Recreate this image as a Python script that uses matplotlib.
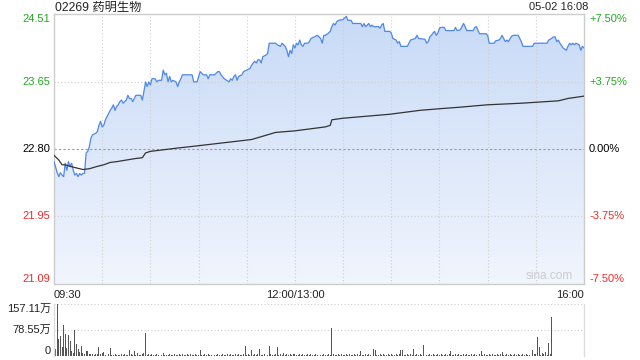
import matplotlib
matplotlib.use("Agg")
import matplotlib.pyplot as plt
import matplotlib.transforms as mtransforms
from matplotlib.colors import LinearSegmentedColormap
import numpy as np

plt.rcParams['font.family'] = ['Liberation Sans', 'Noto Sans CJK SC', 'DejaVu Sans']

title = "02269 药明生物"
stamp = "05-02 16:08"
prev_close = 22.80
price_ticks = [24.51, 23.65, 22.80, 21.95, 21.09]
pct_ticks = ["+7.50%", "+3.75%", "0.00%", "-3.75%", "-7.50%"]
time_labels = ["09:30", "12:00/13:00", "16:00"]
time_label_pos = [0, 150, 330]
vol_ticks = [157.11, 78.55, 0]
vol_tick_labels = ["157.11万", "78.55万", "0"]

price_min = [0, 2, 3, 4, 5, 6, 7, 8, 9, 10, 11, 12, 13, 14, 15, 16, 17, 18, 19, 20, 21, 22, 23, 24, 26, 27, 28, 29, 30,
             31, 32, 33, 34, 35, 36, 37, 38, 39, 40, 41, 42, 43, 44, 45, 46, 47, 48, 49, 50, 51, 54, 55, 56, 57, 58,
             59, 60, 61, 63, 64, 65, 67, 68, 69, 70, 71, 72, 73, 74, 76, 77, 78, 79, 80, 86, 87, 89, 91, 92, 93, 95,
             96, 97, 100, 102, 103, 104, 106, 109, 110, 111, 112, 113, 114, 115, 117, 118, 120, 122, 123, 124, 125,
             126, 127, 128, 129, 130, 132, 133, 134, 138, 139, 141, 142, 143, 144, 145, 146, 147, 148, 149, 150, 151,
             152, 153, 154, 155, 156, 158, 159, 160, 162, 164, 165, 166, 167, 168, 169, 171, 172, 173, 174, 175, 176,
             177, 180, 182, 183, 185, 186, 191, 192, 193, 194, 195, 196, 197, 198, 199, 202, 203, 204, 205, 206, 209,
             210, 211, 213, 214, 215, 216, 220, 221, 222, 225, 226, 227, 231, 232, 233, 234, 235, 236, 237, 238, 239,
             240, 241, 243, 244, 249, 250, 251, 253, 254, 255, 256, 257, 261, 262, 263, 264, 265, 269, 270, 271, 274,
             275, 277, 278, 279, 280, 281, 282, 283, 284, 285, 286, 289, 290, 291, 292, 298, 299, 307, 308, 309, 311,
             312, 313, 314, 315, 317, 319, 320, 321, 322, 323, 324, 325, 327, 328, 329, 330]
price_val = [22.64, 22.50, 22.45, 22.50, 22.47, 22.45, 22.62, 22.53, 22.64, 22.58, 22.62, 22.53, 22.47, 22.49, 22.45,
             22.49, 22.47, 22.49, 22.49, 22.75, 22.77, 22.83, 22.94, 22.98, 23.00, 23.02, 23.10, 23.15, 23.08, 23.10,
             23.17, 23.21, 23.25, 23.29, 23.32, 23.36, 23.29, 23.34, 23.36, 23.40, 23.42, 23.38, 23.40, 23.42, 23.48,
             23.44, 23.44, 23.40, 23.44, 23.48, 23.48, 23.42, 23.53, 23.65, 23.59, 23.65, 23.61, 23.69, 23.69, 23.65,
             23.67, 23.67, 23.80, 23.74, 23.76, 23.65, 23.72, 23.65, 23.67, 23.65, 23.59, 23.65, 23.69, 23.74, 23.74,
             23.65, 23.65, 23.78, 23.76, 23.74, 23.74, 23.69, 23.74, 23.74, 23.78, 23.78, 23.74, 23.69, 23.65, 23.69,
             23.67, 23.72, 23.74, 23.67, 23.72, 23.74, 23.78, 23.80, 23.82, 23.86, 23.89, 23.91, 23.89, 23.93, 23.93,
             23.89, 23.97, 23.99, 24.01, 24.14, 24.14, 24.12, 24.10, 24.14, 24.12, 24.10, 24.05, 23.97, 24.05, 24.01,
             24.12, 24.08, 24.14, 24.12, 24.18, 24.12, 24.10, 24.14, 24.14, 24.16, 24.20, 24.22, 24.24, 24.22, 24.20,
             24.14, 24.24, 24.24, 24.27, 24.29, 24.35, 24.39, 24.37, 24.41, 24.43, 24.44, 24.48, 24.43, 24.43, 24.39,
             24.39, 24.35, 24.39, 24.35, 24.37, 24.39, 24.35, 24.37, 24.35, 24.35, 24.33, 24.37, 24.39, 24.29, 24.29,
             24.27, 24.20, 24.18, 24.14, 24.16, 24.10, 24.10, 24.14, 24.18, 24.20, 24.24, 24.20, 24.19, 24.14, 24.16,
             24.22, 24.24, 24.27, 24.29, 24.24, 24.27, 24.33, 24.34, 24.34, 24.30, 24.30, 24.34, 24.30, 24.31, 24.35,
             24.39, 24.35, 24.30, 24.30, 24.34, 24.35, 24.30, 24.26, 24.26, 24.24, 24.14, 24.14, 24.17, 24.18, 24.20,
             24.24, 24.20, 24.16, 24.18, 24.16, 24.20, 24.23, 24.24, 24.24, 24.20, 24.16, 24.10, 24.10, 24.14, 24.14,
             24.18, 24.19, 24.22, 24.22, 24.16, 24.18, 24.14, 24.08, 24.05, 24.10, 24.14, 24.12, 24.14, 24.12, 24.14,
             24.12, 24.05, 24.10, 24.08]

avg_min = [0, 3, 5, 7, 10, 14, 18, 22, 27, 31, 35, 39, 45, 51, 55, 57, 60, 68, 76, 85, 123, 138, 150, 169, 172, 173,
           180, 209, 228, 240, 253, 270, 291, 314, 320, 330]
avg_val = [22.72, 22.66, 22.60, 22.60, 22.58, 22.56, 22.54, 22.55, 22.58, 22.60, 22.63, 22.64, 22.66, 22.68, 22.69,
           22.75, 22.77, 22.79, 22.81, 22.83, 22.92, 23.01, 23.03, 23.08, 23.10, 23.17, 23.19, 23.24, 23.29, 23.31,
           23.33, 23.36, 23.38, 23.41, 23.44, 23.47]

volume = [
    45, 20, 157.11, 50, 59, 28, 93, 67, 24, 62, 46, 15, 8, 78, 36, 21, 13, 31, 10, 6,
    15, 15, 6, 5, 7, 4, 6, 5, 28, 6, 10, 13, 4, 21, 7, 24, 4, 3, 5, 3,
    4, 3, 5, 3, 7, 4, 3, 17, 6, 4, 15, 3, 8, 4, 3, 6, 8, 68, 4, 6,
    3, 6, 4, 3, 5, 4, 8, 3, 10, 4, 4, 3, 5, 4, 3, 6, 3, 4, 5, 3,
    7, 4, 3, 5, 4, 6, 3, 4, 5, 3, 4, 17, 4, 3, 5, 3, 6, 4, 3, 5,
    4, 3, 6, 4, 3, 5, 4, 3, 6, 4, 5, 3, 4, 6, 3, 5, 4, 3, 5, 31,
    4, 5, 3, 17, 4, 6, 3, 5, 20, 4, 3, 6, 4, 3, 31, 5, 4, 3, 6, 28,
    4, 5, 3, 8, 4, 5, 3, 6, 4, 5, 7, 4, 3, 5, 4, 6, 3, 4, 5, 3,
    6, 4, 3, 5, 4, 6, 3, 4, 5, 3, 4, 6, 3, 85, 5, 4, 3, 6, 4, 5,
    3, 4, 6, 3, 5, 4, 3, 6, 4, 5, 3, 15, 4, 3, 5, 4, 6, 3, 4, 20,
    17, 4, 3, 5, 4, 6, 3, 4, 5, 3, 6, 4, 3, 5, 4, 6, 17, 17, 4, 3,
    5, 4, 6, 3, 22, 4, 5, 3, 6, 4, 32, 5, 4, 3, 6, 4, 5, 3, 4, 6,
    3, 5, 4, 3, 6, 4, 5, 16, 4, 3, 5, 4, 6, 3, 4, 5, 3, 6, 4, 3,
    5, 4, 6, 3, 4, 5, 15, 3, 6, 4, 3, 5, 4, 6, 3, 4, 5, 3, 6, 13,
    4, 3, 5, 4, 6, 3, 4, 5, 3, 6, 4, 3, 5, 4, 6, 3, 4, 14, 18, 5,
    6, 58, 26, 4, 8, 5, 12, 4, 39, 6, 118]

W, H = 640, 360
fig = plt.figure(figsize=(6.4, 3.6), dpi=100)

def px_box(x0, y0, x1, y1):
    return [x0 / W, 1 - y1 / H, (x1 - x0) / W, (y1 - y0) / H]

green = '#22a822'
red = '#f02c2c'
grid_c = '#cfcfcf'
fs = 8

# main price axes
ax = fig.add_axes(px_box(54, 14, 584, 284))
ax.set_xlim(0, 330)
ax.set_ylim(price_ticks[-1], price_ticks[0])
for s in ax.spines.values():
    s.set_color('#cccccc')
    s.set_linewidth(1)
ax.set_xticks([])
ax.set_yticks([])

# vertical dotted grid every 30 minutes
for m in range(30, 330, 30):
    ax.axvline(m, color=grid_c, lw=0.8, ls=(0, (1, 2)), zorder=1)
for p in [price_ticks[1], price_ticks[3]]:
    ax.axhline(p, color=grid_c, lw=0.8, ls=(0, (1, 2)), zorder=1)
ax.axhline(prev_close, color='#999999', lw=0.8, ls=(0, (2, 2)), zorder=1)

# gradient fill under price line
pm = np.array(price_min, dtype=float)
pv = np.array(price_val, dtype=float)
poly = ax.fill_between(pm, pv, price_ticks[-1], color='none', lw=0)
cmap = LinearSegmentedColormap.from_list('g', ['#f1f5fd', '#c8daf7'])
grad = np.linspace(0, 1, 256).reshape(-1, 1)
im = ax.imshow(grad, cmap=cmap, aspect='auto', origin='lower',
               extent=[0, 330, price_ticks[-1], price_ticks[0]], zorder=0.5)
path = poly.get_paths()[0]
im.set_clip_path(path, transform=ax.transData)

ax.plot(pm, pv, color='#4f87e8', lw=0.9, zorder=3)
ax.plot(avg_min, avg_val, color='#333333', lw=0.9, zorder=3)

# y labels (price + percent)
trans_l = mtransforms.blended_transform_factory(fig.transFigure, ax.transData)
left_colors = [green, green, 'black', red, red]
for i, (p, pc) in enumerate(zip(price_ticks, pct_ticks)):
    va = 'center'
    off = 0
    if i == 0:
        va = 'top'
    elif i == len(price_ticks) - 1:
        va = 'bottom'
    ax.text(50 / W, p, f"{p:.2f}", transform=trans_l, ha='right', va=va,
            fontsize=fs, color=left_colors[i])
    ax.text(589 / W, p, pc, transform=trans_l, ha='left', va=va,
            fontsize=fs, color=left_colors[i])

ax.text(573 / W, 21.12, "sina.com", transform=trans_l, ha='right', va='bottom',
        fontsize=8.5, color='#cccccc')

# time labels
trans_t = mtransforms.blended_transform_factory(ax.transData, fig.transFigure)
has = ['left', 'center', 'right']
for lab, pos, ha in zip(time_labels, time_label_pos, has):
    ax.text(pos, 1 - 295 / H, lab, transform=trans_t, ha=ha, va='center', fontsize=fs, color='#222222')

fig.text(55 / W, 1 - 7.5 / H, title, ha='left', va='center', fontsize=8.8, color='#222222')
fig.text(588 / W, 1 - 7.5 / H, stamp, ha='right', va='center', fontsize=fs, color='#222222')

# volume axes
axv = fig.add_axes(px_box(54, 304, 584, 356))
axv.set_xlim(0, 330)
axv.set_ylim(0, vol_ticks[0])
axv.bar(np.arange(len(volume)), volume, width=0.6, color='#555555', zorder=2)
for s in ['top', 'bottom']:
    axv.spines[s].set_visible(False)
for s in ['left', 'right']:
    axv.spines[s].set_color('#dddddd')
    axv.spines[s].set_linewidth(1)
axv.set_xticks([])
axv.set_yticks([])
for v in vol_ticks[:2]:
    axv.axhline(v, color=grid_c, lw=0.8, ls=(0, (1, 2)), zorder=1)
trans_v = mtransforms.blended_transform_factory(fig.transFigure, axv.transData)
vas = ['top', 'center', 'bottom']
for v, lab, va in zip(vol_ticks, vol_tick_labels, vas):
    axv.text(51 / W, v, lab, transform=trans_v, ha='right', va=va, fontsize=fs, color='#222222')

fig.savefig('out.png', dpi=100)
